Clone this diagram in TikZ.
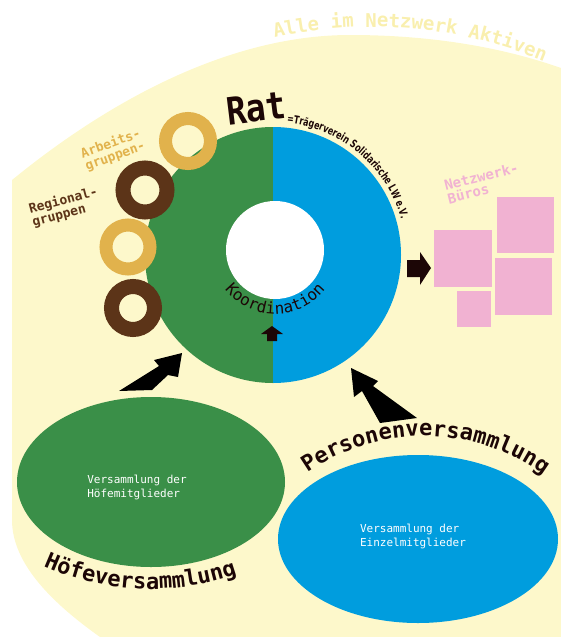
\documentclass[tikz,border=0pt]{standalone}
\usepackage{fontspec}
\usepackage{tikz}
\usetikzlibrary{decorations.text}
\setmonofont{DejaVu Sans Mono}
\newfontfamily\narrowfont{DejaVu Sans}[FakeStretch=0.72]

\definecolor{cream}{HTML}{FDF8CB}
\definecolor{allecol}{HTML}{F9EFAE}
\definecolor{hofgreen}{HTML}{3A8F48}
\definecolor{persblue}{HTML}{009DDE}
\definecolor{ringgold}{HTML}{E1B24C}
\definecolor{ringbrown}{HTML}{5C3418}
\definecolor{buero}{HTML}{F1B2D2}
\definecolor{darktext}{HTML}{1C0606}

\begin{document}
\begin{tikzpicture}[x=1pt,y=-1pt,
    goldring/.style={draw=ringgold, line width=13pt},
    brownring/.style={draw=ringbrown, line width=15pt},
    monobold/.style={font=\ttfamily\bfseries\fontsize{#1}{#1}\selectfont}]
            \useasboundingbox (0,0) rectangle (561,637);
            \fill[cream] (12,180) .. controls (110,100) and (230,35) .. (350,35) .. controls (440,35) and (510,50) .. (561,68) -- (561,637) -- (100,637) .. controls (55,605) and (12,565) .. (12,520) -- cycle;
            \path[decorate, decoration={text along path, text align=center,
                text={|\ttfamily\bfseries\fontsize{19}{19}\selectfont\color{allecol}|Alle im Netzwerk Aktiven}}]
                (372,475) ++(256:448) arc (256:294:448);

            \fill[hofgreen] (273,127) arc (270:90:128) -- cycle;
            \fill[persblue] (273,127) arc (-90:90:128) -- cycle;
            \fill[white] (275,250) circle (49);

            \path[decorate, decoration={text along path, text align=center,
                text={|\ttfamily\fontsize{16}{16}\selectfont\color{darktext}|Koordination}}]
                (275,250) ++(145:64) arc (145:35:64);
            \fill[darktext] (272,326) -- (283,334) -- (277,334) -- (277,341) -- (267,341) -- (267,334) -- (261,334) -- cycle;

            \node[rotate=7, yscale=1.15, monobold=33, text=darktext] (rat) at (256,108) {Rat};
            \path[decorate, decoration={text along path, text align=left,
                text={|\narrowfont\bfseries\fontsize{11}{11}\selectfont\color{darktext}|=Trägerverein Solidarische LW e.V.}}]
                (273,255) ++(276:133) arc (276:352:133);

            \draw[goldring] (188,141) circle (22.5);
            \draw[brownring] (145,190) circle (22);
            \draw[goldring] (128,247) circle (22);
            \draw[brownring] (133,308) circle (21.5);
            \node[rotate=20, align=left, monobold=13, text=ringgold] (arbeit) at (113,150) {Arbeits-\\gruppen-};
            \node[rotate=15, align=left, monobold=13, text=ringbrown] (region) at (65,207) {Regional-\\gruppen};

            \fill[darktext] (407,260) -- (420,260) -- (420,252) -- (431,268) -- (420,285) -- (420,277) -- (407,277) -- cycle;
            \fill[buero] (434,230) rectangle (492,287);
            \fill[buero] (497,197) rectangle (554,253);
            \fill[buero] (495,258) rectangle (552,315);
            \fill[buero] (457,291) rectangle (491,327);
            \node[rotate=14, align=left, monobold=14, text=buero] (bueros) at (483,183) {Netzwerk-\\Büros};

            \fill[black] (119,391) -- (152,390) -- (168,375) -- (178,377) -- (182,353) -- (154,360) -- (159,366) -- cycle;
            \fill[black] (351,368) -- (354,397) -- (362,391) -- (380,423) -- (417,418) -- (373,386) -- (378,381) -- cycle;

            \fill[hofgreen] (151,482) ellipse [x radius=134, y radius=85];
            \node[align=left, text=white, font=\ttfamily\fontsize{11}{14}\selectfont] (hoefe) at (137,487) {Versammlung der\\Höfemitglieder};
            \path[decorate, decoration={text along path, text align=center,
                text={|\ttfamily\bfseries\fontsize{22}{22}\selectfont\color{darktext}|Höfeversammlung}}]
                (151,326) ++(117:263) arc (117:68:263);

            \fill[persblue] (418,539) ellipse [x radius=140, y radius=84];
            \node[align=left, text=white, font=\ttfamily\fontsize{11}{14}\selectfont] (einzel) at (413,536) {Versammlung der\\Einzelmitglieder};
            \path[decorate, decoration={text along path, text align=center,
                text={|\ttfamily\bfseries\fontsize{22}{22}\selectfont\color{darktext}|Personenversammlung}}]
                (424,640) ++(233:204) arc (233:308:204);
\end{tikzpicture}
\end{document}
